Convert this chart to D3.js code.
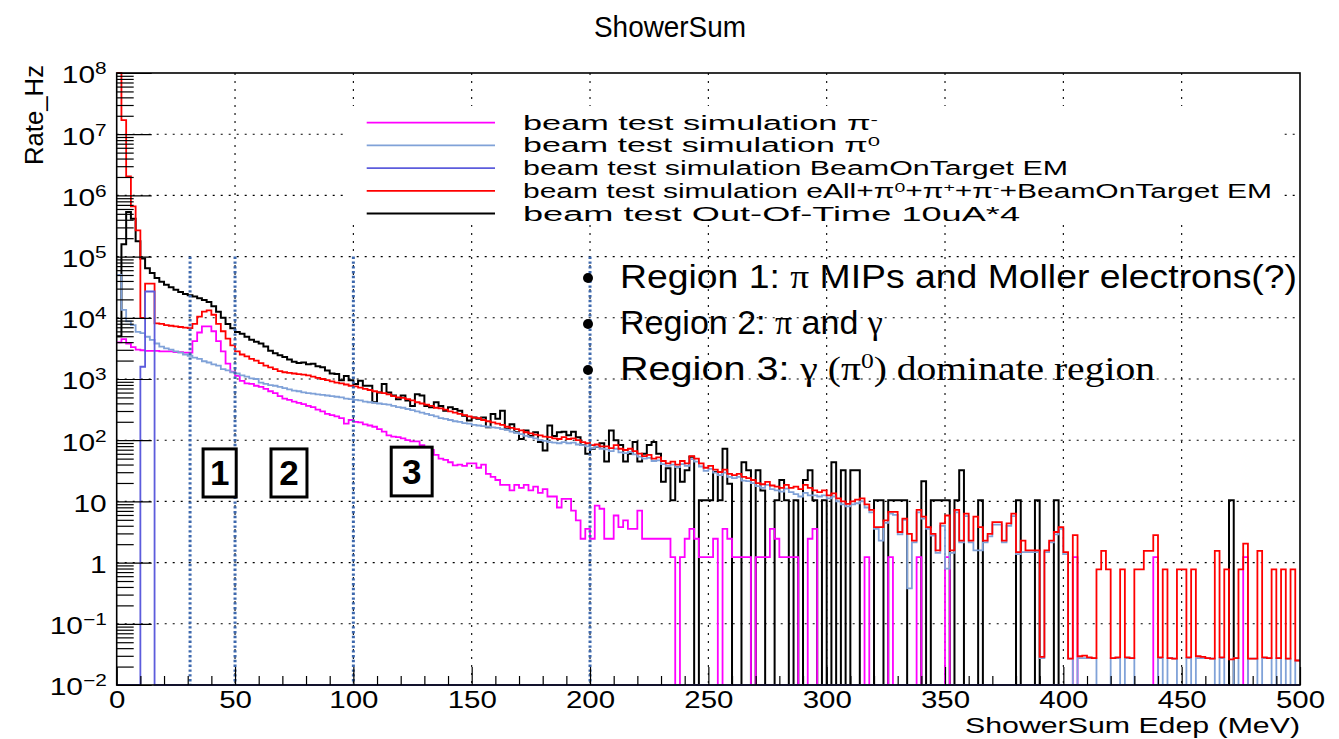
<!DOCTYPE html>
<html lang="en">
<head>
<meta charset="utf-8">
<title>ShowerSum</title>
<script src="https://cdn.jsdelivr.net/npm/d3@7/dist/d3.min.js"></script>
<style>
  html, body { margin: 0; padding: 0; background: #fff; }
  svg { display: block; }
  text { font-family: "Liberation Sans", Arial, Helvetica, sans-serif; fill: #000; }
</style>
</head>
<body>
<svg id="chart" width="1339" height="739" viewBox="0 0 1339 739"></svg>
<script>
// ShowerSum Edep spectra: 2 MeV bins from 0 to 500 MeV.
// Each series holds log10(rate / Hz) per bin; null marks an empty bin.
const BIN_WIDTH = 2;

// beam test simulation pi-
const piMinusLog = [
  3.60,3.65,3.58,3.52,3.48,3.47,3.46,3.46,3.46,3.45,
  3.45,3.45,3.44,3.44,3.43,3.43,3.62,3.76,3.86,3.86,
  3.78,3.62,3.45,3.25,3.12,3.05,2.97,2.93,2.92,2.89,
  2.87,2.84,2.80,2.77,2.72,2.68,2.66,2.63,2.61,2.59,
  2.56,2.54,2.50,2.47,2.43,2.41,2.39,2.36,2.27,2.33,
  2.30,2.29,2.26,2.24,2.22,2.18,2.14,2.08,2.06,2.05,
  2.03,2.00,1.98,1.98,1.92,1.88,1.84,1.76,1.70,1.68,
  1.64,1.59,1.60,1.58,1.62,1.62,1.55,1.60,1.45,1.40,
  1.35,1.27,1.27,1.18,1.27,1.22,1.27,1.18,1.24,1.14,
  1.20,1.08,1.08,0.90,1.04,1.04,0.85,0.69,0.39,0.55,
  0.39,0.93,0.88,0.39,0.39,0.77,0.58,0.69,0.55,0.55,
  0.85,0.39,0.39,0.39,0.39,0.39,0.39,0.09,null,0.09,
  0.39,0.55,0.39,0.09,0.09,0.09,0.39,null,0.55,0.39,
  0.09,0.09,0.09,0.09,null,0.09,0.09,0.09,0.55,0.39,
  0.09,0.09,0.09,0.09,null,null,0.39,0.55,null,null,
  null,null,null,null,null,null,null,null,0.09,null,
  null,null,null,0.09,null,null,null,null,null,0.09,
  null,null,null,null,null,0.09,null,null,null,null,
  null,null,null,null,null,null,null,null,null,null,
  null,null,null,null,null,null,null,null,null,null,
  null,null,0.09,null,null,null,null,null,null,null,
  null,null,null,null,null,null,null,null,null,0.09,
  null,null,null,null,null,null,null,null,null,null,
  null,null,null,null,null,null,null,null,0.09,null,
  null,null,null,null,null,null,null,null,null,null
];

// beam test simulation pi0
const piZeroLog = [
  4.70,4.13,3.94,3.88,3.77,3.75,3.69,3.64,3.58,3.53,
  3.50,3.48,3.45,3.43,3.40,3.38,3.35,3.33,3.29,3.27,
  3.24,3.22,3.16,3.14,3.11,3.09,3.06,3.04,3.01,3.00,
  2.94,2.92,2.90,2.89,2.87,2.85,2.83,2.81,2.80,2.78,
  2.77,2.76,2.75,2.74,2.73,2.72,2.71,2.70,2.68,2.67,
  2.66,2.65,2.63,2.62,2.61,2.60,2.59,2.58,2.56,2.54,
  2.53,2.51,2.49,2.47,2.45,2.43,2.41,2.39,2.36,2.35,
  2.33,2.31,2.30,2.28,2.27,2.25,2.24,2.23,2.22,2.21,
  2.20,2.18,2.17,2.14,2.12,2.10,2.07,2.05,2.03,2.00,
  1.99,1.97,1.96,1.95,1.97,1.95,1.96,1.93,1.92,1.90,
  1.87,1.89,1.86,1.85,1.82,1.86,1.80,1.79,1.81,1.77,
  1.73,1.70,1.71,1.66,1.67,1.61,1.58,1.60,1.56,1.61,
  1.58,1.69,1.65,1.57,1.50,1.53,1.47,1.43,1.47,1.40,
  1.38,1.40,1.34,1.33,1.30,1.25,1.22,1.27,1.20,1.18,
  1.16,1.21,1.15,1.12,1.08,1.14,1.10,1.10,1.08,1.10,
  1.05,1.08,1.00,0.95,0.92,0.95,0.97,1.00,0.90,0.82,
  0.55,0.36,0.65,0.80,0.78,0.46,0.70,-0.42,0.33,0.82,
  0.72,0.55,0.44,0.16,0.60,-0.10,0.16,0.82,0.33,0.76,
  0.33,0.20,0.20,0.33,0.43,0.62,0.62,0.33,0.60,0.76,
  0.14,0.17,0.17,0.17,0.17,-1.56,0.17,0.33,0.46,0.55,
  0.14,-1.57,null,-1.56,-1.56,-1.56,-1.56,null,null,null,
  -1.56,-1.56,null,-1.56,-1.56,null,null,null,null,null,
  -1.56,null,-1.56,-1.57,null,null,-1.56,null,-1.56,-1.56,
  -1.56,-1.57,null,-1.56,null,null,-1.56,null,null,-1.57,
  -1.57,null,-1.56,-1.56,null,-1.56,null,-1.57,null,-1.60
];

// beam test simulation BeamOnTarget EM: only these bins are filled
const beamOnTargetBins = [5, 6, 7];
const beamOnTargetLog = [3.20, 4.43, 4.43];

// beam test simulation eAll+pi0+pi++pi-+BeamOnTarget EM
const sumLog = [
  8.30,7.23,6.31,5.82,5.43,4.00,4.56,4.56,3.91,3.90,
  3.88,3.87,3.86,3.85,3.84,3.83,3.90,4.02,4.10,4.12,
  4.05,3.90,3.78,3.66,3.55,3.45,3.40,3.37,3.33,3.30,
  3.26,3.22,3.19,3.16,3.13,3.11,3.10,3.09,3.08,3.07,
  3.06,3.04,3.02,3.00,2.98,2.96,2.94,2.93,2.91,2.89,
  2.88,2.86,2.84,2.82,2.80,2.78,2.77,2.75,2.72,2.70,
  2.69,2.67,2.65,2.62,2.60,2.58,2.56,2.53,2.52,2.50,
  2.47,2.45,2.43,2.41,2.39,2.37,2.36,2.33,2.31,2.29,
  2.27,2.25,2.22,2.20,2.18,2.16,2.13,2.11,2.09,2.08,
  2.06,2.05,2.03,2.02,2.05,2.02,2.03,2.00,1.97,1.95,
  1.92,1.93,1.90,1.90,1.87,1.92,1.86,1.84,1.86,1.82,
  1.78,1.74,1.76,1.70,1.72,1.66,1.62,1.65,1.60,1.66,
  1.62,1.74,1.70,1.62,1.55,1.58,1.52,1.48,1.52,1.45,
  1.43,1.45,1.40,1.38,1.35,1.30,1.28,1.32,1.26,1.24,
  1.22,1.27,1.22,1.24,1.20,1.27,1.22,1.18,1.15,1.18,
  1.10,1.13,1.05,1.00,0.96,1.00,1.03,1.05,0.95,0.86,
  0.58,0.58,0.69,0.83,0.83,0.50,0.72,0.47,0.36,0.86,
  0.75,0.58,0.47,0.20,0.64,0.77,0.20,0.86,0.36,0.80,
  0.36,0.75,0.58,0.36,0.47,0.66,0.66,0.36,0.64,0.80,
  0.17,0.36,0.20,0.20,0.20,-1.54,0.20,0.36,0.50,0.58,
  0.17,-1.57,0.45,-1.53,-1.52,-1.55,-1.56,-0.11,0.19,-0.11,
  -1.56,-1.55,-0.11,-1.55,-1.56,-0.11,-0.11,0.19,0.19,0.45,
  -1.55,-0.11,-1.56,-1.57,-0.11,-0.11,-1.55,-0.11,-1.53,-1.54,
  -1.56,-1.57,0.19,-1.55,-0.11,-1.58,-1.56,-0.11,0.31,-1.57,
  -1.57,0.19,-1.55,-1.56,-0.11,-1.56,-0.11,-1.57,-0.11,-1.60
];

// beam test Out-Of-Time 10uA*4
const outOfTimeLog = [
  3.70,5.20,5.73,5.62,5.25,4.97,4.81,4.73,4.65,4.59,
  4.54,4.50,4.46,4.42,4.39,4.37,4.35,4.32,4.29,4.26,
  4.19,4.10,4.00,3.90,3.83,3.77,3.74,3.69,3.64,3.61,
  3.58,3.53,3.46,3.42,3.39,3.36,3.32,3.28,3.26,3.27,
  3.24,3.25,3.21,3.19,3.14,3.09,3.08,2.98,3.05,2.98,
  2.92,2.97,2.89,2.89,2.62,2.78,2.92,2.78,2.73,2.67,
  2.73,2.65,2.56,2.75,2.73,2.56,2.54,2.62,2.56,2.48,
  2.54,2.51,2.48,2.40,2.32,2.37,2.35,2.37,2.21,2.43,
  2.35,2.48,2.18,2.26,2.13,2.02,2.16,2.07,2.13,1.97,
  1.83,2.24,2.07,2.13,2.14,2.08,2.14,2.05,1.92,1.78,
  1.86,1.89,1.95,1.65,2.16,2.00,1.92,1.65,1.78,1.97,
  1.65,1.78,1.92,1.97,1.78,1.32,1.54,1.02,1.56,1.32,
  1.51,1.73,null,1.02,1.02,1.02,1.48,1.02,1.86,1.29,
  null,null,1.64,1.51,null,1.51,1.18,null,null,1.02,
  1.35,1.02,null,1.02,null,1.35,1.51,1.02,null,1.02,
  null,1.64,null,1.51,null,1.51,1.51,null,null,null,
  1.02,1.02,null,1.02,1.02,1.02,1.02,null,null,null,
  1.33,null,1.02,1.02,1.02,1.02,null,1.02,1.51,null,
  null,null,1.02,null,null,null,null,null,null,null,
  1.02,null,null,null,1.02,null,null,null,1.02,null,
  null,null,null,null,null,null,null,null,null,null,
  null,null,null,null,null,null,null,null,null,null,
  null,null,null,null,null,null,null,null,null,null,
  null,null,null,null,null,1.02,null,null,null,null,
  null,null,null,null,null,null,null,null,null,null
];

// Axis tick values
const xMajorTicks = [0, 50, 100, 150, 200, 250, 300, 350, 400, 450, 500];
const xMinorStep = 10;
const yExponents = [-2, -1, 0, 1, 2, 3, 4, 5, 6, 7, 8];

// Region boundaries (MeV) drawn as blue dotted markers
const regionEdges = [31, 50, 100, 200];

// Region number boxes: [label, left MeV, right MeV, top Hz, bottom Hz]
const regionBoxes = [
  ["1", 36.5, 50.5, 72, 11.8],
  ["2", 65.2, 80.4, 72, 11.8],
  ["3", 116.0, 133.3, 77, 12.3]
];

const X0 = 116.7, X1 = 1300, Y0 = 73, Y1 = 685;

const svg = d3.select("#chart");
const x = d3.scaleLinear().domain([0, 500]).range([X0, X1]);
const y = d3.scaleLog().domain([1e-2, 1e8]).range([Y1, Y0]).clamp(true);

// empty bins sit on the lower frame edge
const rateOf = v => (v === null || v === undefined) ? 1e-3 : Math.pow(10, v);

function stretch(sel, fn) {
  sel.each(function () {
    const L = fn(this.getComputedTextLength());
    d3.select(this).attr("textLength", L).attr("lengthAdjust", "spacingAndGlyphs");
  });
}

function richText(sel, parts, supSize, supRise) {
  let raised = false;
  parts.forEach(p => {
    const ts = sel.append("tspan").text(p.t);
    if (p.font) ts.attr("font-family", p.font);
    if (p.sup) {
      ts.attr("font-size", supSize);
      if (!raised) { ts.attr("dy", -supRise); raised = true; }
    } else if (raised) {
      ts.attr("dy", supRise); raised = false;
    }
  });
}

// ---- grid ----
const grid = svg.append("g").attr("stroke", "#000").attr("stroke-width", 1.1)
  .attr("stroke-dasharray", "2,6");
grid.selectAll("line.gx").data(xMajorTicks.slice(1, -1)).join("line")
  .attr("x1", d => x(d)).attr("x2", d => x(d)).attr("y1", Y0).attr("y2", Y1);
grid.selectAll("line.gy").data(yExponents.slice(1, -1)).join("line")
  .attr("x1", X0).attr("x2", X1)
  .attr("y1", d => y(Math.pow(10, d))).attr("y2", d => y(Math.pow(10, d)));

// ---- histograms ----
const step = d3.line().curve(d3.curveStepAfter).x(d => x(d[0])).y(d => y(d[1]));
function histPoints(vals) {
  const pts = vals.map((v, i) => [i * BIN_WIDTH, rateOf(v)]);
  pts.push([vals.length * BIN_WIDTH, rateOf(vals[vals.length - 1])]);
  return pts;
}
const beamOnTargetLogDense = piMinusLog.map((_, i) => {
  const j = beamOnTargetBins.indexOf(i);
  return j < 0 ? null : beamOnTargetLog[j];
});

const series = [
  { vals: outOfTimeLog, color: "#000000", width: 2 },
  { vals: piMinusLog, color: "#ff00ff", width: 1.8 },
  { vals: piZeroLog, color: "#80a2d8", width: 1.8 },
  { vals: sumLog, color: "#ff0000", width: 1.8 },
  { vals: beamOnTargetLogDense, color: "#5c5cdc", width: 1.8 }
];
const hist = svg.append("g").attr("fill", "none");
series.forEach(s => {
  hist.append("path").attr("d", step(histPoints(s.vals)))
    .attr("stroke", s.color).attr("stroke-width", s.width)
    .attr("stroke-linejoin", "miter");
});

// ---- region boundary markers ----
svg.append("g").selectAll("line").data(regionEdges).join("line")
  .attr("x1", d => x(d)).attr("x2", d => x(d))
  .attr("y1", y(1e5)).attr("y2", Y1)
  .attr("stroke", "#3d68ad").attr("stroke-width", 3)
  .attr("stroke-dasharray", "2.4,2.4");

// ---- axes ----
const tickStyle = g => g.selectAll(".tick line").attr("stroke", "#000").attr("stroke-width", 1.2);

const xAxis = svg.append("g").attr("transform", `translate(0,${Y1})`)
  .call(d3.axisBottom(x).tickValues(xMajorTicks).tickSize(-18).tickSizeOuter(0).tickPadding(7));
xAxis.select(".domain").remove();
tickStyle(xAxis);
xAxis.selectAll(".tick text").attr("font-size", 23).attr("fill", "#000")
  .attr("font-family", '"Liberation Sans", Arial, sans-serif');
stretch(xAxis.selectAll(".tick text"), L => L * 1.28);

const xMinor = d3.range(0, 501, xMinorStep).filter(v => v % 50 !== 0);
const xMinorAxis = svg.append("g").attr("transform", `translate(0,${Y1})`)
  .call(d3.axisBottom(x).tickValues(xMinor).tickSize(-9).tickSizeOuter(0).tickFormat(""));
xMinorAxis.select(".domain").remove();
tickStyle(xMinorAxis);

const yMajor = yExponents.map(k => Math.pow(10, k));
const yAxis = svg.append("g").attr("transform", `translate(${X0},0)`)
  .call(d3.axisLeft(y).tickValues(yMajor).tickSize(-35).tickSizeOuter(0).tickPadding(10));
yAxis.select(".domain").remove();
tickStyle(yAxis);
yAxis.selectAll(".tick text").each(function (d) {
  const k = Math.round(Math.log10(d));
  const t = d3.select(this).text(null).attr("font-size", 23).attr("fill", "#000")
    .attr("font-family", '"Liberation Sans", Arial, sans-serif').attr("y", 2.5);
  if (k === 0) t.text("1");
  else if (k === 1) t.text("10");
  else richText(t, [{ t: "10" }, { t: k < 0 ? "\u2212" + (-k) : String(k), sup: true }], 16, 9);
});
stretch(yAxis.selectAll(".tick text"), L => L * 1.3);

const yMinor = [];
yExponents.slice(0, -1).forEach(k => { for (let m = 2; m <= 9; m++) yMinor.push(m * Math.pow(10, k)); });
const yMinorAxis = svg.append("g").attr("transform", `translate(${X0},0)`)
  .call(d3.axisLeft(y).tickValues(yMinor).tickSize(-17).tickSizeOuter(0).tickFormat(""));
yMinorAxis.select(".domain").remove();
tickStyle(yMinorAxis);

// frame
svg.append("rect").attr("x", X0).attr("y", Y0).attr("width", X1 - X0).attr("height", Y1 - Y0)
  .attr("fill", "none").attr("stroke", "#000").attr("stroke-width", 1.6);

// ---- titles ----
svg.append("text").attr("x", 670).attr("y", 37).attr("text-anchor", "middle")
  .attr("font-size", 30).text("ShowerSum")
  .attr("textLength", 152).attr("lengthAdjust", "spacingAndGlyphs");

svg.append("text").attr("transform", "translate(43,65) rotate(-90)")
  .attr("text-anchor", "end").attr("font-size", 26).text("Rate_Hz")
  .attr("textLength", 100).attr("lengthAdjust", "spacingAndGlyphs");

svg.append("text").attr("x", X1).attr("y", 733).attr("text-anchor", "end")
  .attr("font-size", 21.5).text("ShowerSum Edep (MeV)")
  .attr("textLength", 335).attr("lengthAdjust", "spacingAndGlyphs");

// ---- legend ----
const legendRows = [
  { color: "#ff00ff", width: 355, parts: [{ t: "beam test simulation \u03c0" }, { t: "-", sup: true }] },
  { color: "#80a2d8", width: 357, parts: [{ t: "beam test simulation \u03c0" }, { t: "0", sup: true }] },
  { color: "#5c5cdc", width: 545, parts: [{ t: "beam test simulation BeamOnTarget EM" }] },
  { color: "#ff0000", width: 749, parts: [
      { t: "beam test simulation eAll+\u03c0" }, { t: "0", sup: true }, { t: "+\u03c0" }, { t: "+", sup: true },
      { t: "+\u03c0" }, { t: "-", sup: true }, { t: "+BeamOnTarget EM" }] },
  { color: "#000000", width: 497, parts: [{ t: "beam test Out-Of-Time 10uA*4" }] }
];
const legend = svg.append("g");
legend.append("rect").attr("x", 345).attr("y", 106).attr("width", 937).attr("height", 119).attr("fill", "#fff");
legendRows.forEach((r, i) => {
  const ly = 122.7 + i * 22.7;
  legend.append("line").attr("x1", 366.7).attr("x2", 495).attr("y1", ly).attr("y2", ly)
    .attr("stroke", r.color).attr("stroke-width", 1.8);
  const t = legend.append("text").attr("x", 523).attr("y", ly + 7).attr("font-size", 20);
  richText(t, r.parts, 13, 6);
  t.attr("textLength", r.width).attr("lengthAdjust", "spacingAndGlyphs");
});

// ---- region notes ----
const SANS = "Lato, 'Open Sans', sans-serif";
const SERIF = "'Liberation Serif', 'Times New Roman', serif";
const notes = [
  { base: 288, width: 677, parts: [{ t: "Region 1: " }, { t: "\u03c0", font: SERIF }, { t: " MIPs and Moller electrons(?)" }] },
  { base: 334, width: null, parts: [{ t: "Region 2: " }, { t: "\u03c0", font: SERIF }, { t: " and " }, { t: "\u03b3", font: SERIF }] },
  { base: 380, width: 535, parts: [{ t: "Region 3: " }, { t: "\u03b3 (\u03c0", font: SERIF }, { t: "0", font: SERIF, sup: true },
      { t: ") dominate region", font: SERIF }] }
];
const noteG = svg.append("g");
notes.forEach(n => {
  noteG.append("circle").attr("cx", x(200) - 2).attr("cy", n.base - 10).attr("r", 5).attr("fill", "#000");
  const t = noteG.append("text").attr("x", 620).attr("y", n.base).attr("font-size", 34)
    .attr("font-family", SANS);
  richText(t, n.parts, 22, 12);
  if (n.width) t.attr("textLength", n.width).attr("lengthAdjust", "spacingAndGlyphs");
});

// ---- region number boxes ----
const boxG = svg.append("g");
regionBoxes.forEach(([label, l, r, top, bot]) => {
  const bx = x(l), bw = x(r) - x(l), by = y(top), bh = y(bot) - y(top);
  boxG.append("rect").attr("x", bx).attr("y", by).attr("width", bw).attr("height", bh)
    .attr("fill", "#fff").attr("stroke", "#000").attr("stroke-width", 3);
  boxG.append("text").attr("x", bx + bw / 2).attr("y", by + bh / 2 + 12.5)
    .attr("text-anchor", "middle").attr("font-size", 35).attr("font-weight", 700)
    .attr("font-family", SANS).text(label);
});
</script>
</body>
</html>
